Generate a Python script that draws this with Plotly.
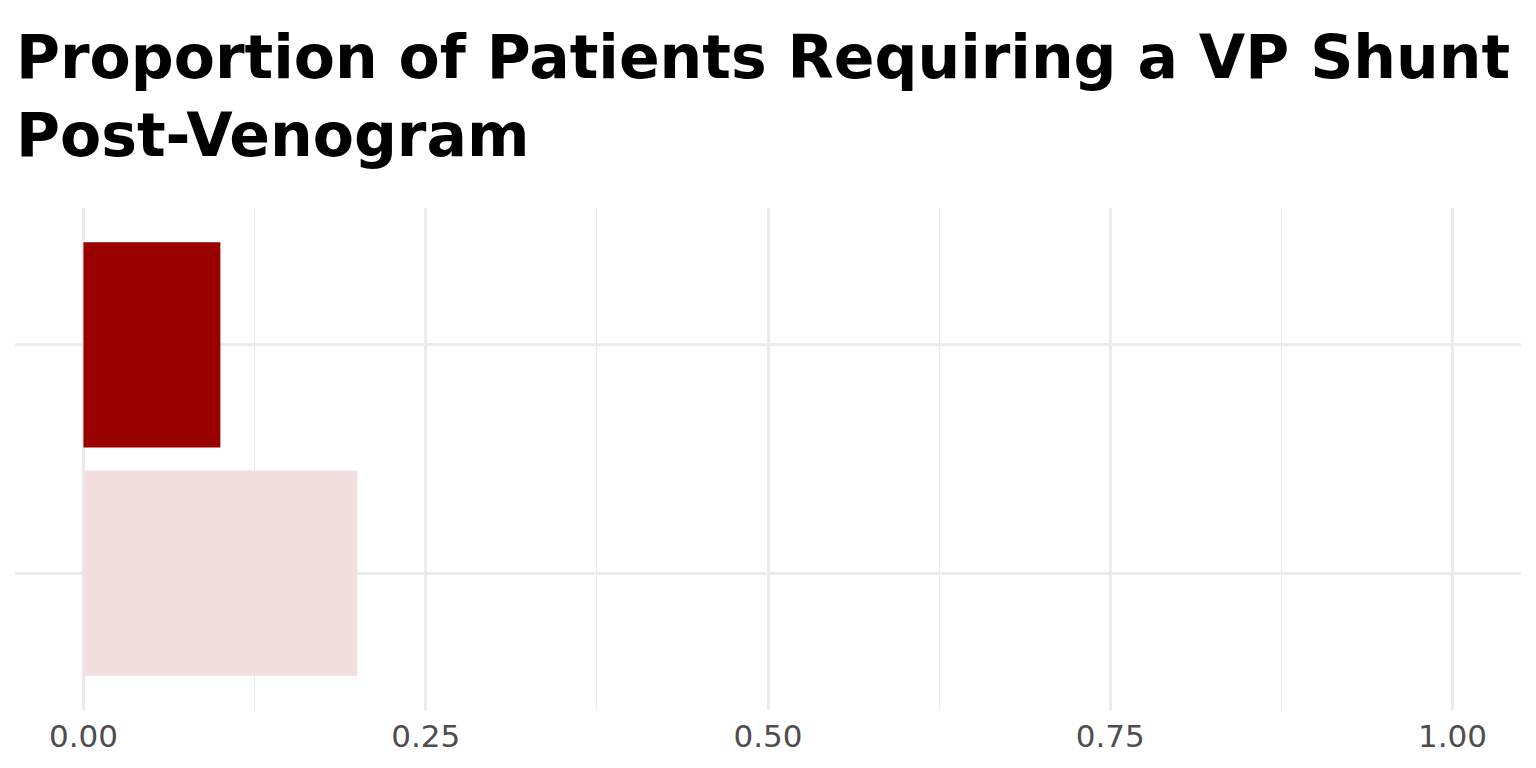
import plotly.graph_objects as go

# Data
categories = ["Group B", "Group A"]          # bottom to top
proportions = [0.20, 0.10]
bar_colors = ["#F2DFDF", "#990000"]
x_tick_vals = [0.0, 0.25, 0.5, 0.75, 1.0]
x_tick_text = ["0.00", "0.25", "0.50", "0.75", "1.00"]
title_text = "Proportion of Patients Requiring a VP Shunt<br>Post-Venogram"

# page body has an 8px margin, so the figure is sized to fill the rest
W, H = 1528, 760

fig = go.Figure()
fig.add_trace(go.Bar(
    x=proportions,
    y=categories,
    orientation="h",
    marker=dict(color=bar_colors, line=dict(width=0)),
    width=0.9,
    showlegend=False,
    hoverinfo="x+y",
))

fig.update_layout(
    width=W,
    height=H,
    paper_bgcolor="white",
    plot_bgcolor="white",
    margin=dict(l=6.5, r=14.5, t=200, b=58),
    font=dict(family="DejaVu Sans", color="#4D4D4D"),
    title=dict(
        text=title_text,
        font=dict(family="DejaVu Sans", size=60, color="black", weight="bold"),
        x=8 / W,
        xref="container",
        xanchor="left",
        y=1 - 70 / H,
        yref="container",
        yanchor="top",
    ),
    xaxis=dict(
        range=[-0.05, 1.05],
        tickvals=x_tick_vals,
        ticktext=x_tick_text,
        tickfont=dict(size=31, color="#4D4D4D", family="DejaVu Sans"),
        showgrid=True,
        gridcolor="#EBEBEB",
        gridwidth=2.6,
        zeroline=False,
        showline=False,
        ticks="",
        ticklabelstandoff=5,
        minor=dict(tickvals=[0.125, 0.375, 0.625, 0.875], showgrid=True,
                   gridcolor="#EBEBEB", gridwidth=1.4),
    ),
    yaxis=dict(
        type="category",
        categoryorder="array",
        categoryarray=categories,
        range=[-0.6, 1.6],
        showticklabels=False,
        showgrid=True,
        gridcolor="#EBEBEB",
        gridwidth=2.6,
        zeroline=False,
        showline=False,
        ticks="",
    ),
    bargap=0.1,
)

fig.write_html("out.html")
